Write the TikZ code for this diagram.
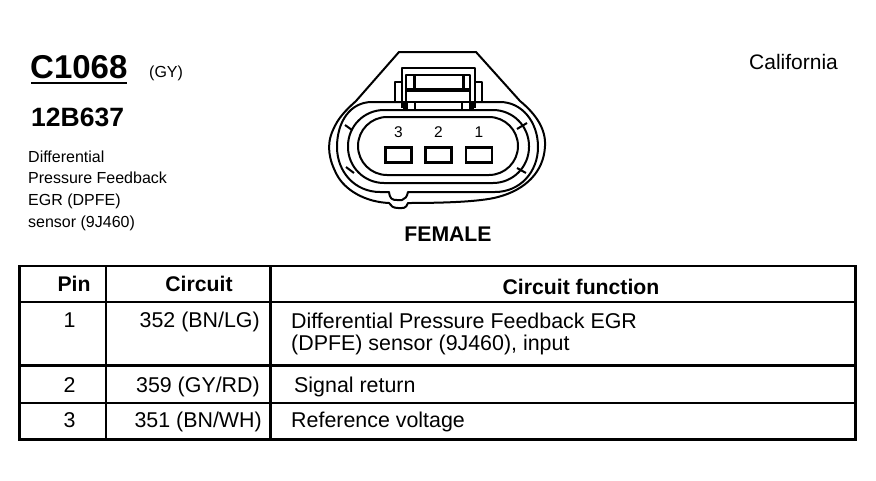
\documentclass[tikz,border=0pt]{standalone}
\usepackage{fontspec}
\setmainfont{Liberation Sans}
\usetikzlibrary{positioning}

\begin{document}
\begin{tikzpicture}[
		x=1pt, y=-1pt,
		txt/.style={inner sep=0pt, anchor=base west, font=\fontsize{21}{21}\selectfont},
		cell/.style={txt, font=\fontsize{21.4}{21}\selectfont},
		txtbold/.style={txt, anchor=base, font=\fontsize{21.2}{21}\selectfont\bfseries},
		small/.style={txt, font=\fontsize{16}{16}\selectfont},
		num/.style={inner sep=0pt, anchor=base, font=\fontsize{15.5}{15}\selectfont},
		wall/.style={line width=2pt, line join=round},
		pinbox/.style={draw=black, line width=2.1pt, minimum width=26pt, minimum height=15pt, inner sep=0pt},
		rule/.style={line width=2.4pt}
	]
	\useasboundingbox (0,0) rectangle (876,480);

	% heading
	\node[txt, font=\fontsize{33}{33}\selectfont\bfseries] (conn) at (30,78) {C1068};
	\draw[line width=2pt] (conn.base west)++(1,5) -- ++(96,0);
	\node[small] (colour) at (149,77) {(GY)};
	\node[txt, font=\fontsize{26.5}{27}\selectfont\bfseries] (part) at (31,126) {12B637};
	\node[small] (desca) at (28,162) {Differential};
	\node[small] (descb) at (28,183) {Pressure Feedback};
	\node[small] (descc) at (28,205) {EGR (DPFE)};
	\node[small] (descd) at (28,227) {sensor (9J460)};
	\node[txt] (market) at (749,69) {California};
	\node[txtbold] (gender) at (448,241) {FEMALE};

	% connector shell
	\draw[wall] (399,52) -- (476,52) -- (520,101)
		.. controls (537,115) and (546,130) .. (545,146)
		.. controls (544,172) and (525,190) .. (498,197)
		.. controls (480,202) and (440,203) .. (408,203)
		.. controls (406,209) and (403,208) .. (398,208)
		.. controls (393,208) and (391,206) .. (389,203)
		.. controls (365,202) and (345,190) .. (337,175)
		.. controls (329,160) and (326,145) .. (333,130)
		.. controls (338,118) and (346,110) .. (356,101) -- cycle;
	\draw[wall] (402,102) -- (372,102)
		.. controls (350,102) and (337,122) .. (337,147)
		.. controls (337,172) and (355,192) .. (380,192)
		-- (389,192) .. controls (390,199) and (392,200) .. (397,200)
		-- (402,200) .. controls (405,199) and (407,197) .. (408,192)
		-- (495,192) .. controls (520,192) and (538,172) .. (538,147)
		.. controls (538,122) and (522,102) .. (500,102) -- (474,102);
	\draw[wall, rounded corners=36pt] (348,110) rectangle (529,183);
	\draw[wall, rounded corners=29pt] (358,117) rectangle (518,175);

	% ribs
	\draw[wall] (345,125) -- (352,130);
	\draw[wall] (346,167) -- (354,173);
	\draw[wall] (517,129) -- (527,123);
	\draw[wall] (517,168) -- (526,173);

	% latch
	\draw[wall, fill=white] (395,102) -- (395,82) -- (402,82) -- (402,68) -- (475,68) -- (475,82) -- (482,82) -- (482,102);
	\draw[wall] (402,82) -- (402,108);
	\draw[wall] (475,82) -- (475,108);
	\draw[wall] (406,108) -- (406,75) -- (470,75) -- (470,108);
	\draw[line width=3.5pt] (406,90) -- (470,90);
	\draw[line width=3pt] (414,76) -- (414,90);
	\draw[line width=3pt] (463,76) -- (463,90);
	\draw[wall] (395,102) -- (482,102);
	\draw[line width=5pt] (405,103) -- (405,111);
	\draw[line width=5pt] (471,103) -- (471,111);
	\draw[wall] (415,103) -- (415,110);
	\draw[wall] (462,103) -- (462,110);

	% pins
	\node[pinbox] (boxc) at (398.5,155) {};
	\node[pinbox] (boxb) at (438.5,155) {};
	\node[pinbox] (boxa) at (479,155) {};
	\node[num, above=9pt of boxc.north, anchor=base] (numc) {3};
	\node[num, above=9pt of boxb.north, anchor=base] (numb) {2};
	\node[num, above=9pt of boxa.north, anchor=base] (numa) {1};

	% table
	\draw[rule] (19.5,266) rectangle (855.5,439.5);
	\draw[rule] (19.5,302) -- (855.5,302);
	\draw[rule] (19.5,365.5) -- (855.5,365.5);
	\draw[rule] (19.5,403) -- (855.5,403);
	\draw[rule] (106,266) -- (106,439.5);
	\draw[rule] (270.5,266) -- (270.5,439.5);

	\node[txtbold] (headpin) at (74,291) {Pin};
	\node[txtbold] (headcircuit) at (199,291) {Circuit};
	\node[txtbold] (headfunc) at (581,294) {Circuit function};

	\node[cell, anchor=base] (pina) at (69.5,327) {1};
	\node[cell, anchor=base] (pinb) at (69.5,392) {2};
	\node[cell, anchor=base] (pinc) at (69.5,427) {3};

	\node[cell, anchor=base east] (circa) at (260,327) {352 (BN/LG)};
	\node[cell, anchor=base east] (circb) at (260,392) {359 (GY/RD)};
	\node[cell, anchor=base east] (circc) at (262,427) {351 (BN/WH)};

	\node[cell] (funca) at (291,328) {Differential Pressure Feedback EGR};
	\node[cell] (funcaa) at (291,350) {(DPFE) sensor (9J460), input};
	\node[cell] (funcb) at (294,392) {Signal return};
	\node[cell] (funcc) at (291,427) {Reference voltage};
\end{tikzpicture}
\end{document}
